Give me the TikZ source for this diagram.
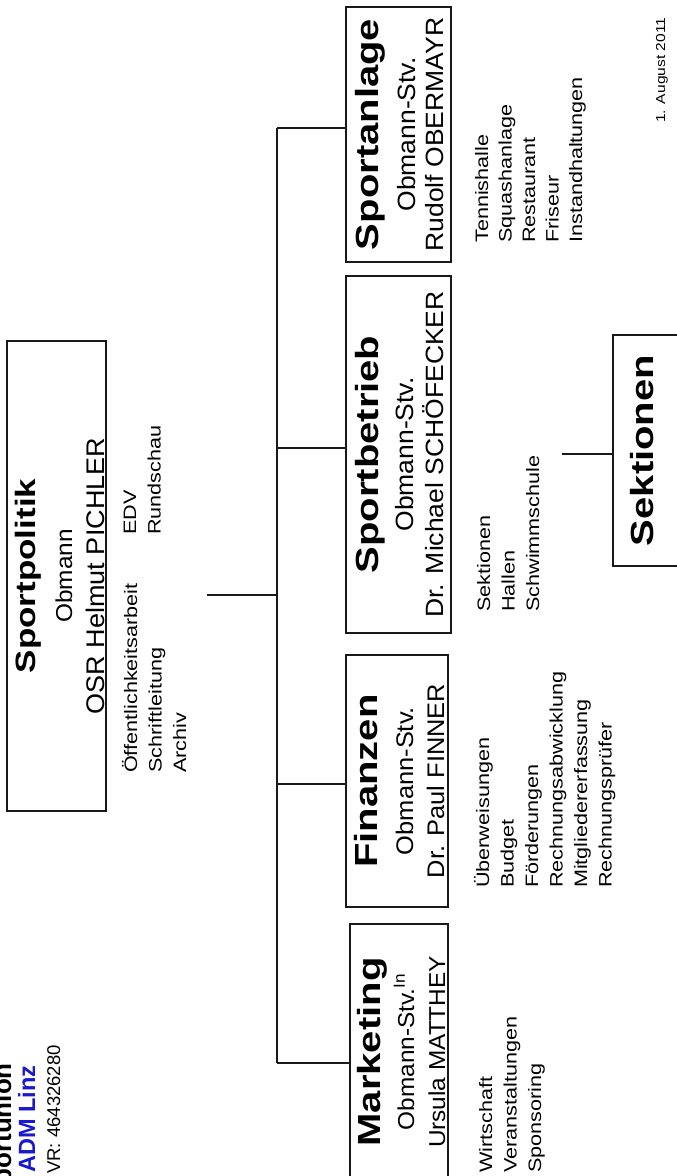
\documentclass[tikz,border=0pt]{standalone}
\usepackage{fontspec}
\setmainfont{Liberation Sans}
\newfontfamily\headfont{Liberation Sans}[FakeStretch=1.25]
\newfontfamily\namefont{Liberation Sans}[FakeStretch=1.06]
\newfontfamily\listfont{Liberation Sans}[FakeStretch=1.2]
\definecolor{admblue}{RGB}{25,25,205}
\pgfdeclarelayer{bg}
\pgfsetlayers{bg,main}
\tikzset{
  box/.style={draw=black!90, line width=1.6pt, inner sep=0pt},
  head/.style={rotate=90, anchor=base, inner sep=0pt, font=\headfont\bfseries\fontsize{32}{38}\selectfont},
  who/.style={rotate=90, anchor=base, inner sep=0pt, font=\namefont\fontsize{25}{30}\selectfont},
  tasks/.style={rotate=90, anchor=base west, inner sep=0pt, align=left, font=\listfont\fontsize{18}{24.5}\selectfont},
  link/.style={line width=1.3pt, draw=black!90}
}

\begin{document}
\begin{tikzpicture}[x=1pt,y=-1pt]
        \useasboundingbox (0,0) rectangle (677,1176);
        \clip (0,0) rectangle (677,1176);
        \node (politik) [box, minimum width=99pt, minimum height=470pt] at (56.5,576) {};
        \node (anlage) [box, minimum width=105pt, minimum height=255pt] at (398.5,134.5) {};
        \node (betrieb) [box, minimum width=105pt, minimum height=357pt] at (398.5,454.5) {};
        \node (finanzen) [box, minimum width=102pt, minimum height=252pt] at (397,781) {};
        \node (marketing) [box, minimum width=98pt, minimum height=256pt] at (399,1052) {};
        \node (sektionen) [box, minimum width=107pt, minimum height=231pt] at (666.5,450.5) {};
        \node (politik-h) [head, font=\headfont\bfseries\fontsize{28}{34}\selectfont] at (35,576) {Sportpolitik};
        \node (politik-a) [who, font=\namefont\fontsize{23}{28}\selectfont] at (72,576) {Obmann};
        \node (politik-b) [who, font=\namefont\fontsize{25.5}{30}\selectfont] at (104,576) {OSR Helmut PICHLER};
        \node (anlage-h) [head] at (378,134.5) {Sportanlage};
        \node (anlage-a) [who] at (415,134.5) {Obmann-Stv.};
        \node (anlage-b) [who] at (443,134.5) {Rudolf OBERMAYR};
        \node (betrieb-h) [head] at (378,454.5) {Sportbetrieb};
        \node (betrieb-a) [who] at (413,454.5) {Obmann-Stv.};
        \node (betrieb-b) [who] at (443,454.5) {Dr. Michael SCHÖFECKER};
        \node (finanzen-h) [head] at (377,781) {Finanzen};
        \node (finanzen-a) [who, font=\namefont\fontsize{24}{29}\selectfont] at (413,781) {Obmann-Stv.};
        \node (finanzen-b) [who, font=\namefont\fontsize{24}{29}\selectfont] at (444,781) {Dr. Paul FINNER};
        \node (marketing-h) [head] at (380,1052) {Marketing};
        \node (marketing-a) [who, font=\namefont\fontsize{23}{28}\selectfont] at (414,1052) {Obmann-Stv.\textsuperscript{In}};
        \node (marketing-b) [who, font=\namefont\fontsize{23}{28}\selectfont] at (445,1052) {Ursula MATTHEY};
        \node (sektionen-h) [head] at (653,450.5) {Sektionen};
        % Aufgaben (base = letzte Zeile)
        \node (politik-l1) [tasks] at (186,773) {Öffentlichkeitsarbeit\\Schriftleitung\\Archiv};
        \node (politik-l2) [tasks] at (160.5,535) {EDV\\Rundschau};
        \node (anlage-l) [tasks, font=\listfont\fontsize{18}{23.5}\selectfont] at (582,243) {Tennishalle\\Squashanlage\\Restaurant\\Friseur\\Instandhaltungen};
        \node (betrieb-l) [tasks] at (539,612) {Sektionen\\Hallen\\Schwimmschule};
        \node (finanzen-l) [tasks] at (611.5,888) {Überweisungen\\Budget\\Förderungen\\Rechnungsabwicklung\\Mitgliedererfassung\\Rechnungsprüfer};
        \node (marketing-l) [tasks] at (541,1173) {Wirtschaft\\Veranstaltungen\\Sponsoring};
        \node (datum) [tasks, font=\listfont\fontsize{13}{16}\selectfont] at (665,123) {1. August 2011};
        % Kopf
        \node (verein) [rotate=90, anchor=base east, inner sep=0pt, font=\bfseries\fontsize{26}{30}\selectfont] at (11,1063) {Sportunion};
        \node (adm) [rotate=90, anchor=base west, inner sep=0pt, text=admblue, font=\bfseries\fontsize{23.5}{28}\selectfont] at (35,1173) {ADM Linz};
        \node (zvr) [rotate=90, anchor=base west, inner sep=0pt, font=\fontsize{18.5}{22}\selectfont] at (60,1174) {VR: 464326280};
        \coordinate (t0) at (277,128);
        \coordinate (t1) at (277,448);
        \coordinate (t2) at (277,595);
        \coordinate (t3) at (277,784);
        \coordinate (t4) at (277,1063);
        \coordinate (p0) at (207,595);
        \coordinate (s0) at (562,454);
        \begin{pgfonlayer}{bg}
                \draw [link] (t0) -- (t4);
                \draw (t0) edge [link] (t0 -| anlage.west);
                \draw (t1) edge [link] (t1 -| betrieb.west);
                \draw (p0) edge [link] (t2);
                \draw (t3) edge [link] (t3 -| finanzen.west);
                \draw (t4) edge [link] (t4 -| marketing.west);
                \draw (s0) edge [link] (s0 -| sektionen.west);
        \end{pgfonlayer}
\end{tikzpicture}
\end{document}
